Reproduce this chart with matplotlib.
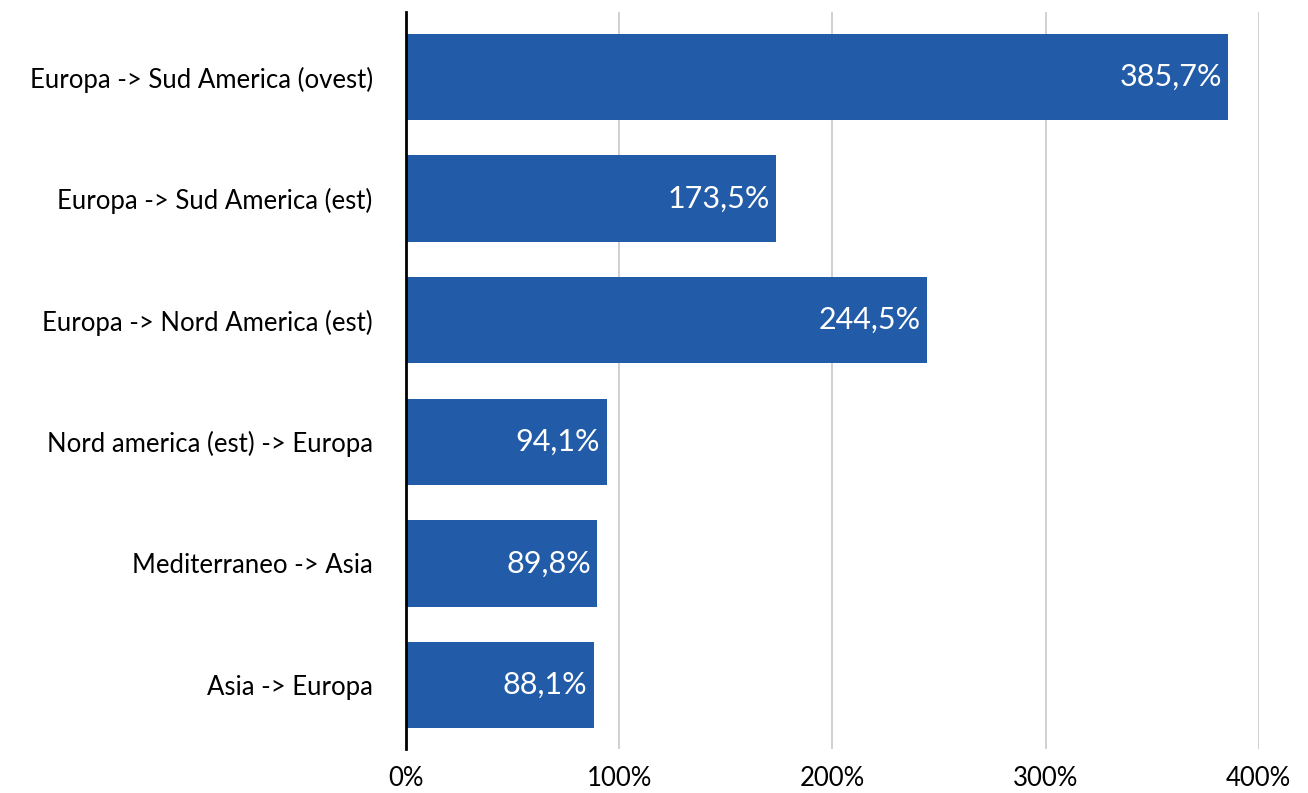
import matplotlib.pyplot as plt
from matplotlib.ticker import FuncFormatter

# data (top to bottom as shown)
routes = ["Europa -> Sud America (ovest)", "Europa -> Sud America (est)",
          "Europa -> Nord America (est)", "Nord america (est) -> Europa",
          "Mediterraneo -> Asia", "Asia -> Europa"]
values = [385.7, 173.5, 244.5, 94.1, 89.8, 88.1]
ticks = [0, 100, 200, 300, 400]

bar_color = "#225BA7"
plt.rcParams["font.family"] = ["Lato", "DejaVu Sans"]

fig = plt.figure(figsize=(13.08, 7.93), dpi=100)
ax = fig.add_axes([0.3104, 0.0555, 0.652, 0.9294])

ypos = list(range(len(routes)))[::-1]
ax.barh(ypos, values, height=0.71, color=bar_color, zorder=3)

for y, v in zip(ypos, values):
    ax.text(v - 3, y, f"{v:.1f}%".replace(".", ","), ha="right", va="center",
            color="white", fontsize=22, zorder=4)

ax.set_yticks(ypos)
ax.set_yticklabels(routes, fontsize=18.5, color="black")
ax.set_xticks(ticks)
ax.xaxis.set_major_formatter(FuncFormatter(lambda x, p: f"{x:.0f}%"))
ax.tick_params(axis="x", labelsize=18.5, length=0, pad=12, labelcolor="black")
ax.tick_params(axis="y", length=0, pad=24)
ax.set_xlim(0, 400)
ax.set_ylim(-0.526, 5.535)

ax.grid(axis="x", color="#c8c8c8", linewidth=1.2, zorder=0)
for s in ["top", "right", "bottom"]:
    ax.spines[s].set_visible(False)
ax.spines["left"].set_linewidth(2)
ax.spines["left"].set_color("black")
ax.spines["left"].set_zorder(5)

fig.savefig("out.png", dpi=100)
